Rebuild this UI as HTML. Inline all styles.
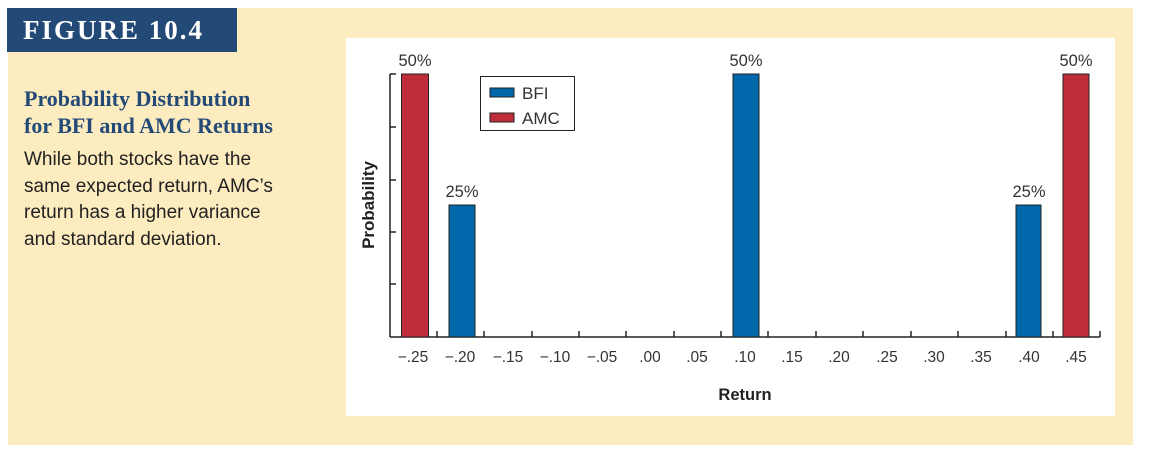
<!DOCTYPE html>
<html><head><meta charset="utf-8"><style>
body{margin:0;width:1150px;height:456px;background:#fff;position:relative;overflow:hidden;font-family:"Liberation Sans",sans-serif}
.cream{position:absolute;left:8px;top:8px;width:1125px;height:437px;background:#fdecc0}
.hdr{position:absolute;left:7px;top:8px;width:230px;height:44px;background:#234a77;color:#fff;font-family:"Liberation Serif",serif;font-weight:bold;font-size:27px;letter-spacing:2px;line-height:44px;padding-left:16px;box-sizing:border-box}
.t1{position:absolute;left:24px;top:85px;color:#234a77;font-family:"Liberation Serif",serif;font-weight:bold;font-size:22px;line-height:27px}
.t2{position:absolute;left:24px;top:147px;color:#222;font-size:19px;line-height:26.5px}
.white{position:absolute;left:346px;top:38px;width:769px;height:378px;background:#fff}
</style></head><body>
<div class="cream"></div>
<div class="hdr">FIGURE 10.4</div>
<div class="t1">Probability Distribution<br>for BFI and AMC Returns</div>
<div class="t2">While both stocks have the<br>same expected return, AMC’s<br>return has a higher variance<br>and standard deviation.</div>
<div class="white"></div>
<svg width="1150" height="456" style="position:absolute;left:0;top:0" font-family="Liberation Sans, sans-serif">
<g stroke="#222" stroke-width="1.5">
<line x1="390" y1="74" x2="390" y2="337"/>
<line x1="390" y1="337" x2="1100" y2="337"/>
<line x1="390" y1="74" x2="396" y2="74"/><line x1="390" y1="127" x2="396" y2="127"/><line x1="390" y1="180" x2="396" y2="180"/><line x1="390" y1="232" x2="396" y2="232"/><line x1="390" y1="284" x2="396" y2="284"/>
<line x1="437" y1="337" x2="437" y2="331"/><line x1="484" y1="337" x2="484" y2="331"/><line x1="532" y1="337" x2="532" y2="331"/><line x1="579" y1="337" x2="579" y2="331"/><line x1="626" y1="337" x2="626" y2="331"/><line x1="674" y1="337" x2="674" y2="331"/><line x1="721" y1="337" x2="721" y2="331"/><line x1="768" y1="337" x2="768" y2="331"/><line x1="816" y1="337" x2="816" y2="331"/><line x1="863" y1="337" x2="863" y2="331"/><line x1="911" y1="337" x2="911" y2="331"/><line x1="958" y1="337" x2="958" y2="331"/><line x1="1006" y1="337" x2="1006" y2="331"/><line x1="1053" y1="337" x2="1053" y2="331"/><line x1="1100" y1="337" x2="1100" y2="331"/>
</g>
<g stroke="#222" stroke-width="1">
<rect x="401.5" y="74" width="27" height="263" fill="#be2d39"/>
<rect x="1063" y="74" width="26" height="263" fill="#be2d39"/>
<rect x="449" y="205" width="26" height="132" fill="#0068ab"/>
<rect x="733" y="74" width="26" height="263" fill="#0068ab"/>
<rect x="1016" y="205" width="25" height="132" fill="#0068ab"/>
<rect x="480.5" y="76.5" width="94" height="54" fill="#fff"/>
<rect x="490" y="88" width="24" height="9" fill="#0068ab"/>
<rect x="490" y="113" width="24" height="9" fill="#be2d39"/>
</g>
<g fill="#333" font-size="17">
<text x="522" y="99">BFI</text><text x="522" y="124">AMC</text>
</g>
<g fill="#333" font-size="16.5" text-anchor="middle">
<text x="415" y="66">50%</text><text x="746" y="66">50%</text><text x="1076" y="66">50%</text>
<text x="462" y="197">25%</text><text x="1029" y="197">25%</text>
</g>
<g fill="#333" font-size="15.5" text-anchor="middle">
<text x="413" y="362">−.25</text><text x="460" y="362">−.20</text><text x="508" y="362">−.15</text><text x="555" y="362">−.10</text><text x="602" y="362">−.05</text><text x="650" y="362">.00</text><text x="697" y="362">.05</text><text x="745" y="362">.10</text><text x="792" y="362">.15</text><text x="839" y="362">.20</text><text x="887" y="362">.25</text><text x="934" y="362">.30</text><text x="981" y="362">.35</text><text x="1029" y="362">.40</text><text x="1076" y="362">.45</text>
</g>
<text x="745" y="400" text-anchor="middle" font-weight="bold" font-size="16.5" fill="#222">Return</text>
<text transform="translate(374,205) rotate(-90)" text-anchor="middle" font-weight="bold" font-size="17" fill="#222">Probability</text>
</svg>
</body></html>
